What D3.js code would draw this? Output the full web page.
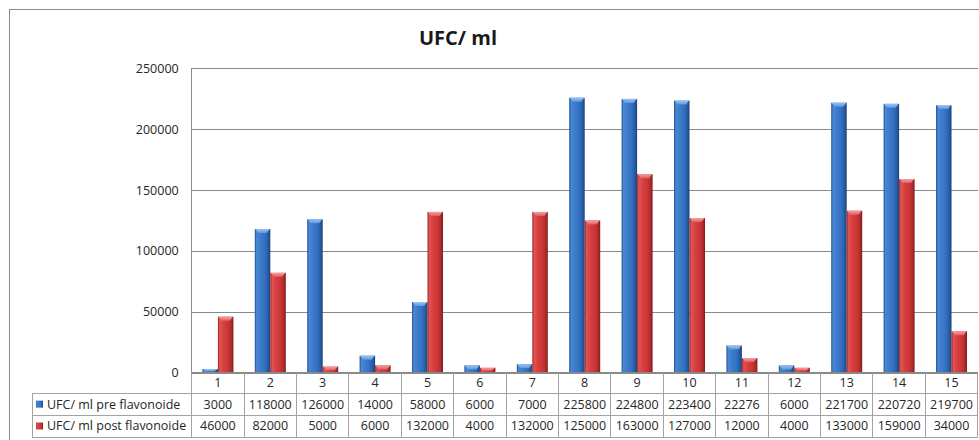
<!DOCTYPE html>
<html>
<head>
<meta charset="utf-8">
<script src="https://cdn.jsdelivr.net/npm/d3@7/dist/d3.min.js"></script>
<style>
  html, body { margin: 0; padding: 0; background: #ffffff; }
  svg { display: block; }
  text { font-family: "Open Sans", "DejaVu Sans", sans-serif; fill: #262626; }
</style>
</head>
<body>
<svg id="chart" width="979" height="440"></svg>
<script>
// Sample numbers and colony counts (UFC/ ml) before and after flavonoid treatment
const categories = ["1","2","3","4","5","6","7","8","9","10","11","12","13","14","15"];
const preValues  = [3000,118000,126000,14000,58000,6000,7000,225800,224800,223400,22276,6000,221700,220720,219700];
const postValues = [46000,82000,5000,6000,132000,4000,132000,125000,163000,127000,12000,4000,133000,159000,34000];
const seriesNames = ["UFC/ ml pre flavonoide", "UFC/ ml post flavonoide"];
const yTicks = [0, 50000, 100000, 150000, 200000, 250000];
const chartTitle = "UFC/ ml";

const svg = d3.select("#chart");
const W = 979, H = 440;

const plot = { left: 191.7, right: 977.7, top: 68.2, bottom: 372.7 };
const table = { left: 32, row1: 393.3, row2: 415, row3: 437 };

svg.append("rect").attr("x", 0).attr("y", 0).attr("width", W).attr("height", H).attr("fill", "#fff");

// chart frame (runs off the right and bottom edges)
svg.append("rect")
  .attr("x", 9.5).attr("y", 9.5)
  .attr("width", 1000).attr("height", 460)
  .attr("fill", "none").attr("stroke", "#8c8c8c").attr("stroke-width", 1);

// title
svg.append("text")
  .attr("x", 458).attr("y", 45)
  .attr("text-anchor", "middle")
  .attr("font-size", 20).attr("font-weight", 700)
  .style("fill", "#1a1a1a")
  .text(chartTitle);

const x = d3.scaleBand().domain(categories).range([plot.left, plot.right]).padding(0);
const xSub = d3.scaleBand().domain([0, 1]).range([0, x.bandwidth()]).paddingInner(0).paddingOuter(0.69);
const y = d3.scaleLinear().domain([0, 250000]).range([plot.bottom, plot.top]);

// gridlines + tick labels from the axis generator
const yAxis = d3.axisLeft(y).tickValues(yTicks).tickFormat(d3.format("d"))
  .tickSize(-(plot.right - plot.left)).tickPadding(13);
const gy = svg.append("g").attr("transform", `translate(${plot.left},0)`).call(yAxis);
gy.select(".domain").remove();
gy.selectAll(".tick line").attr("stroke", "#8a8a8a").attr("stroke-width", 1)
  .attr("shape-rendering", "crispEdges");
gy.selectAll(".tick text").attr("font-size", 12.5).attr("font-family", '"Open Sans", sans-serif')
  .style("fill", "#262626");

// vertical axis line
svg.append("line")
  .attr("x1", plot.left).attr("x2", plot.left).attr("y1", plot.top).attr("y2", plot.bottom)
  .attr("stroke", "#8a8a8a").attr("shape-rendering", "crispEdges");

// bar gradients
const defs = svg.append("defs");
const palettes = [
  { body: ["#22508f", "#4a88d6", "#3d7bcb", "#3370c0", "#2559a0", "#1b3f73"], cap: ["#9cc4f2", "#5d97de"] },
  { body: ["#9a2424", "#e25454", "#d74040", "#cc3636", "#ad2a2a", "#7a1a1a"], cap: ["#f5a0a0", "#e45e5e"] }
];
const stops = [0, 0.12, 0.35, 0.65, 0.88, 1];
palettes.forEach((p, i) => {
  const g = defs.append("linearGradient").attr("id", "body" + i)
    .attr("x1", "0").attr("x2", "1").attr("y1", "0").attr("y2", "0");
  p.body.forEach((c, k) => g.append("stop").attr("offset", stops[k]).attr("stop-color", c));
  const c = defs.append("linearGradient").attr("id", "cap" + i)
    .attr("x1", "0").attr("x2", "0").attr("y1", "0").attr("y2", "1");
  c.append("stop").attr("offset", 0).attr("stop-color", p.cap[0]);
  c.append("stop").attr("offset", 1).attr("stop-color", p.cap[1]);
});

const rows = categories.map((c, i) => ({ cat: c, vals: [preValues[i], postValues[i]] }));
const bars = svg.append("g").selectAll("g").data(rows).join("g")
  .attr("transform", d => `translate(${x(d.cat)},0)`);

bars.selectAll("rect").data(d => d.vals.map((v, s) => ({ v, s }))).join("rect")
  .attr("x", d => xSub(d.s))
  .attr("width", xSub.bandwidth())
  .attr("y", d => y(d.v))
  .attr("height", d => y(0) - y(d.v))
  .attr("fill", d => `url(#body${d.s})`);

// bevelled top cap
bars.selectAll("path.cap").data(d => d.vals.map((v, s) => ({ v, s }))).join("path")
  .attr("class", "cap")
  .attr("d", d => {
    const x0 = xSub(d.s), x1 = x0 + xSub.bandwidth();
    const t = y(d.v);
    const h = Math.min(4, (y(0) - t) * 0.6);
    const inset = Math.min(3.5, xSub.bandwidth() / 4);
    return `M${x0 + 0.5},${t}L${x1 - 0.5},${t}L${x1 - inset},${t + h}L${x0 + inset},${t + h}Z`;
  })
  .attr("fill", d => `url(#cap${d.s})`);

// data table
const tg = svg.append("g").attr("stroke", "#a3a3a3").attr("shape-rendering", "crispEdges");
// x axis line
tg.append("line").attr("x1", plot.left).attr("x2", plot.right).attr("y1", plot.bottom).attr("y2", plot.bottom)
  .attr("stroke", "#8a8a8a");
[table.row1, table.row2, table.row3].forEach(yy => {
  tg.append("line").attr("x1", table.left).attr("x2", plot.right).attr("y1", yy).attr("y2", yy);
});
tg.append("line").attr("x1", table.left).attr("x2", table.left).attr("y1", table.row1).attr("y2", table.row3);
const bounds = categories.map(c => x(c)).concat([plot.right]);
tg.selectAll("line.col").data(bounds).join("line").attr("class", "col")
  .attr("x1", d => d).attr("x2", d => d).attr("y1", plot.bottom).attr("y2", table.row3);

const fs = 12.5;
svg.append("g").selectAll("text").data(categories).join("text")
  .attr("x", d => x(d) + x.bandwidth() / 2)
  .attr("y", (plot.bottom + table.row1) / 2)
  .attr("dy", "0.35em").attr("text-anchor", "middle").attr("font-size", fs)
  .text(d => d);

const rowY = [(table.row1 + table.row2) / 2, (table.row2 + table.row3) / 2];
[preValues, postValues].forEach((vals, s) => {
  svg.append("g").selectAll("text").data(vals).join("text")
    .attr("x", (d, i) => x(categories[i]) + x.bandwidth() / 2)
    .attr("y", rowY[s])
    .attr("dy", "0.35em").attr("text-anchor", "middle").attr("font-size", fs)
    .text(d => d);
  svg.append("rect")
    .attr("x", 36).attr("y", rowY[s] - 3.5).attr("width", 7).attr("height", 7)
    .attr("fill", `url(#body${s})`);
  svg.append("text")
    .attr("x", 47).attr("y", rowY[s]).attr("dy", "0.35em").attr("font-size", fs)
    .text(seriesNames[s]);
});
</script>
</body>
</html>
